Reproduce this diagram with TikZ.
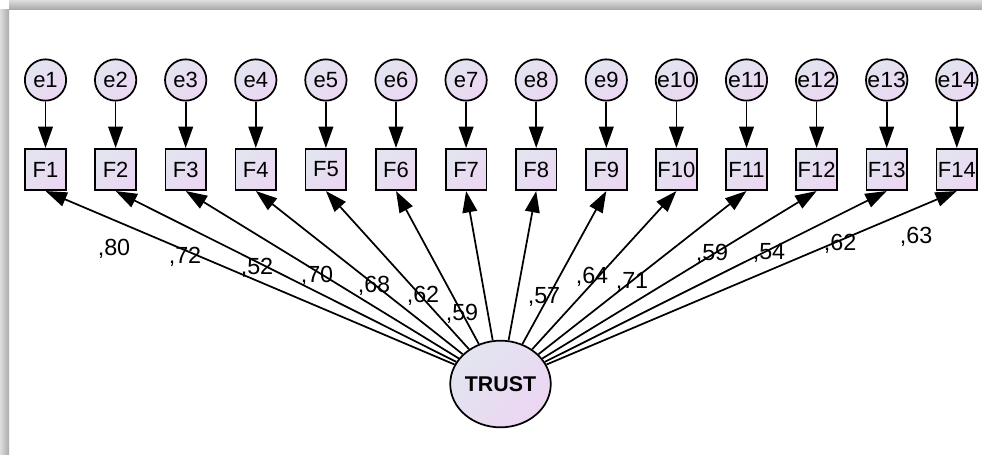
\documentclass[tikz,border=0pt]{standalone}
\usepackage{fontspec}
\setmainfont{Liberation Sans}
\usetikzlibrary{arrows.meta,shapes.geometric}
\definecolor{cA}{RGB}{226,229,240}
\definecolor{cB}{RGB}{236,214,242}
\definecolor{shd}{RGB}{170,170,170}
\definecolor{shl}{RGB}{222,222,222}
\tikzset{
 grad/.style={left color=cA, right color=cB, shading angle=45},
 errnode/.style={circle, draw=black, line width=1.3pt, grad, minimum size=31pt, inner sep=0pt, font=\fontsize{16.5}{16.5}\selectfont},
 obsnode/.style={rectangle, draw=black, line width=1.3pt, grad, minimum width=30.5pt, minimum height=31pt, inner sep=0pt, font=\fontsize{16.5}{16.5}\selectfont},
 latnode/.style={ellipse, draw=black, line width=1.3pt, grad, minimum width=62.5pt, minimum height=65pt, inner sep=0pt, font=\bfseries\fontsize{16}{16}\selectfont},
 arr/.style={line width=1.3pt, -{Triangle[length=16pt,width=11pt]}},
 coef/.style={font=\fontsize{17.5}{17.5}\selectfont, inner sep=0pt}
}
\begin{document}
\begin{tikzpicture}[x=0.75pt,y=-0.75pt]
\useasboundingbox (0,0) rectangle (982,454);
\fill[white] (0,0) rectangle (982,454);
\shade[top color=shl, bottom color=shd] (9,0) rectangle (982,9);
\shade[left color=shl, right color=shd] (0,9) rectangle (9,454);
\foreach \i in {1,...,14}{
  \pgfmathsetmacro\xx{45.5+70.1*(\i-1)}
  \node[errnode] (e\i) at (\xx,80) {\ifnum\i>9 \scalebox{1.05}[1]{e\i}\else e\i\fi};
  \node[obsnode] (F\i) at (\xx,169.5) {F\i};
  \draw[arr] (e\i) -- (F\i);
}
\node[latnode] (T) at (500.5,384) {TRUST};
\foreach \i in {1,...,14}{
  \draw[arr] (T) -- (F\i.south);
}
\node[coef] (c1) at (114,249) {,80};
\node[coef] (c2) at (185,257) {,72};
\node[coef] (c3) at (257,268) {,52};
\node[coef] (c4) at (317,276) {,70};
\node[coef] (c5) at (374,286) {,68};
\node[coef] (c6) at (423,296) {,62};
\node[coef] (c7) at (462,314) {,59};
\node[coef] (c8) at (544,297) {,57};
\node[coef] (c9) at (592,277) {,64};
\node[coef] (c10) at (632,282) {,71};
\node[coef] (c11) at (712,254) {,59};
\node[coef] (c12) at (769,253) {,54};
\node[coef] (c13) at (840,244) {,62};
\node[coef] (c14) at (916,237) {,63};
\end{tikzpicture}
\end{document}
